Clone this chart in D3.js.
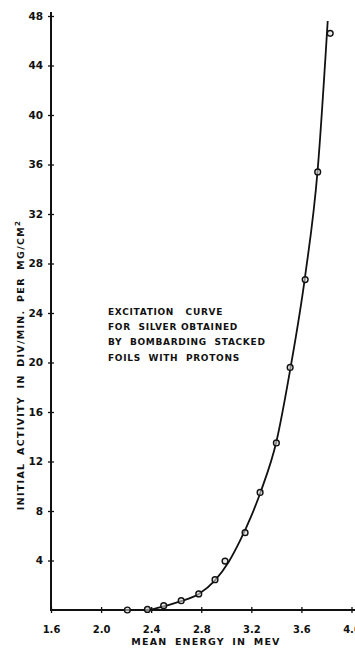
<!DOCTYPE html>
<html><head><meta charset="utf-8">
<script src="https://cdn.jsdelivr.net/npm/d3@7"></script>
<style>
html,body{margin:0;padding:0;background:#fff;}
svg{display:block;}
text{font-family:"DejaVu Sans",sans-serif;font-weight:bold;fill:#111;}
</style></head>
<body>
<svg id="c" width="355" height="649"></svg>
<script>
// measured points (MeV, activity)
const energy   = [2.21, 2.37, 2.50, 2.64, 2.78, 2.91, 2.99, 3.15, 3.27, 3.40, 3.51, 3.63, 3.73, 3.83];
const activity = [0.0, 0.05, 0.35, 0.75, 1.3, 2.45, 3.95, 6.25, 9.5, 13.5, 19.6, 26.7, 35.4, 46.6];
// hand-drawn fitted curve
const curveE = [2.35, 2.40, 2.50, 2.64, 2.78, 2.91, 3.02, 3.11, 3.20, 3.28, 3.40, 3.51, 3.63, 3.73, 3.81];
const curveA = [0.0, 0.05, 0.3, 0.72, 1.3, 2.4, 3.9, 5.6, 7.6, 9.7, 13.6, 19.4, 27.0, 35.6, 47.6];
const xTicks = [1.6, 2.0, 2.4, 2.8, 3.2, 3.6, 4.0];
const yTicks = [4, 8, 12, 16, 20, 24, 28, 32, 36, 40, 44, 48];
const noteLines = ["EXCITATION   CURVE", "FOR  SILVER OBTAINED", "BY  BOMBARDING  STACKED", "FOILS  WITH  PROTONS"];

const svg = d3.select("#c");
const x = d3.scaleLinear().domain([1.6, 4.0]).range([51, 351.5]);
const y = d3.scaleLinear().domain([0, 48]).range([610, 16]);

// axes
const gx = svg.append("g").attr("transform", `translate(0,${y(0)})`)
  .call(d3.axisBottom(x).tickValues(xTicks).tickFormat(d3.format(".1f")).tickSize(3));
gx.select(".domain").remove();
svg.append("line").attr("x1", x(1.6)).attr("x2", 355).attr("y1", y(0)).attr("y2", y(0))
  .attr("stroke", "#111").attr("stroke-width", 2);
gx.selectAll(".tick line").attr("y1", -3).attr("y2", 3).attr("stroke", "#111").attr("stroke-width", 1.3);
gx.selectAll(".tick text").attr("y", 16).attr("font-size", 10).attr("font-family", "DejaVu Sans").attr("font-weight", "bold").attr("fill", "#111");

const gy = svg.append("g").attr("transform", `translate(${x(1.6)},0)`)
  .call(d3.axisLeft(y).tickValues(yTicks).tickFormat(d3.format("d")).tickSize(3));
gy.select(".domain").remove();
svg.append("line").attr("x1", x(1.6)).attr("x2", x(1.6)).attr("y1", y(0) + 1).attr("y2", 12)
  .attr("stroke", "#111").attr("stroke-width", 2);
gy.selectAll(".tick line").attr("x1", -3).attr("x2", 3).attr("stroke", "#111").attr("stroke-width", 1.3);
gy.selectAll(".tick text").attr("x", -8).attr("font-size", 10.5).attr("font-family", "DejaVu Sans").attr("font-weight", "bold").attr("fill", "#111");

// axis titles
svg.append("text").attr("x", 206).attr("y", 645).attr("text-anchor", "middle")
  .attr("font-size", 9.5).attr("letter-spacing", 1.2).attr("word-spacing", 3)
  .text("MEAN ENERGY IN MEV");

const yt = svg.append("text").attr("transform", `translate(24,365) rotate(-90)`)
  .attr("text-anchor", "middle").attr("font-size", 9.5).attr("letter-spacing", 1.3).attr("word-spacing", 3);
yt.append("tspan").text("INITIAL ACTIVITY IN DIV/MIN. PER MG/CM");
yt.append("tspan").attr("dy", -4).attr("font-size", 7).text("2");

// annotation
svg.append("g").selectAll("text").data(noteLines).join("text")
  .attr("x", 108).attr("y", (d, i) => 315 + i * 15.2)
  .attr("font-size", 9).attr("letter-spacing", 0.7)
  .style("white-space", "pre")
  .text(d => d);

// curve
const pts = curveE.map((e, i) => [e, curveA[i]]);
svg.append("path").datum(pts)
  .attr("fill", "none").attr("stroke", "#111").attr("stroke-width", 1.8)
  .attr("d", d3.line().x(d => x(d[0])).y(d => y(d[1])).curve(d3.curveMonotoneX));

// data points
svg.append("g").selectAll("circle").data(energy.map((e, i) => [e, activity[i]])).join("circle")
  .attr("cx", d => x(d[0])).attr("cy", d => y(d[1])).attr("r", 2.9)
  .attr("fill", "#d8d8d8").attr("fill-opacity", 0.6).attr("stroke", "#111").attr("stroke-width", 1.4);
</script>
</body></html>
